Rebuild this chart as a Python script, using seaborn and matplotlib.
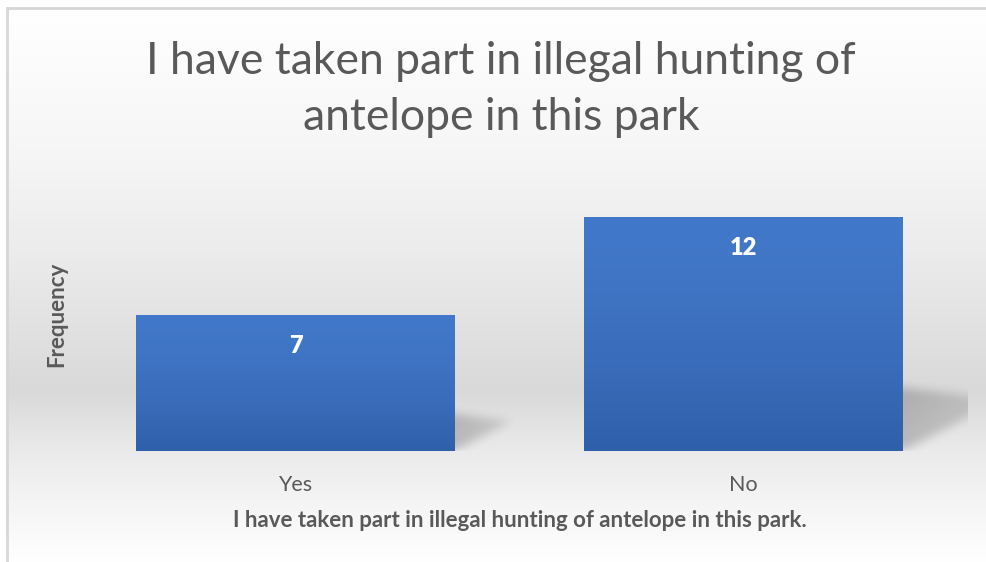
import matplotlib

matplotlib.use("Agg")
import matplotlib.pyplot as plt
import numpy as np
import seaborn as sns
from matplotlib.colors import to_rgb
from matplotlib.lines import Line2D

answers = ["Yes", "No"]
frequencies = [7, 12]
title_lines = ["I have taken part in illegal hunting of", "antelope in this park"]
x_title = "I have taken part in illegal hunting of antelope in this park."
y_title = "Frequency"

TEXT = "#595959"
BAR_TOP = "#4278c9"
BAR_BOTTOM = "#2f5fa9"
FIG_W, FIG_H = 987, 562


def _background(fig: plt.Figure) -> None:
    bg = fig.add_axes([0, 0, 1, 1], zorder=-10)
    rows = np.arange(FIG_H)
    # grey level down the chart area: white top, darker band behind bars, white bottom
    shade = np.interp(rows, [8, 150, 250, 390, 450, 500, 562], [255, 246, 236, 217, 234, 244, 255]) / 255
    img = np.repeat(shade[:, None], 4, axis=1)
    rgb = np.dstack([img, img, img])
    bg.imshow(rgb, aspect="auto", extent=(0, 1, 0, 1), interpolation="bilinear")
    bg.set_axis_off()
    border = "#d6d6d6"
    fig.add_artist(Line2D([6.5 / FIG_W, 6.5 / FIG_W], [0, 1 - 7.5 / FIG_H], transform=fig.transFigure,
                          color=border, lw=2))
    fig.add_artist(Line2D([6.5 / FIG_W, 1], [1 - 7.5 / FIG_H, 1 - 7.5 / FIG_H], transform=fig.transFigure,
                          color=border, lw=2))
    # white margin outside the frame
    fig.add_artist(plt.Rectangle((0, 1 - 6.5 / FIG_H), 1, 6.5 / FIG_H, transform=fig.transFigure,
                                 color="white", zorder=-5))
    fig.add_artist(plt.Rectangle((0, 0), 5.5 / FIG_W, 1, transform=fig.transFigure, color="white", zorder=-5))


def _blur(a: np.ndarray, r: int) -> np.ndarray:
    k = np.ones(2 * r + 1) / (2 * r + 1)
    for _ in range(3):
        a = np.apply_along_axis(lambda v: np.convolve(v, k, mode="same"), 0, a)
        a = np.apply_along_axis(lambda v: np.convolve(v, k, mode="same"), 1, a)
    return a


def _bar_shadow(ax: plt.Axes, patch, px_x: float, px_y: float) -> None:
    right = patch.get_x() + patch.get_width()
    h_px = patch.get_height() * px_y
    pad = 14
    w = int(0.5 * h_px) + 2 * pad
    hh = int(0.4 * h_px) + pad
    X, Y = np.meshgrid(np.arange(w) - pad + 0.5, np.arange(hh) + 0.5)
    tip_x, tip_y, top_y = 0.42 * h_px, 0.22 * h_px, 0.27 * h_px
    lower = tip_y * X / tip_x
    upper = top_y + (tip_y - top_y) * X / tip_x
    mask = ((X <= tip_x) & (Y >= lower) & (Y <= upper)).astype(float)
    mask = _blur(mask, 4) * np.clip(1 - 0.45 * X / tip_x, 0, 1)
    rgba = np.zeros((hh, w, 4))
    rgba[..., 3] = mask * 0.2
    ax.imshow(rgba, origin="lower", aspect="auto", interpolation="bilinear", zorder=1,
              extent=(right - pad / px_x, right + (w - pad) / px_x, 0, hh / px_y))


def _bar_gradient(ax: plt.Axes, patch) -> None:
    t = np.linspace(0, 1, 200)[:, None]
    top, bottom = np.array(to_rgb(BAR_TOP)), np.array(to_rgb(BAR_BOTTOM))
    mix = np.clip(t, 0, 1) ** 1.6
    col = top * (1 - mix[..., None]) + bottom * mix[..., None]
    col = np.repeat(col, 2, axis=1)
    x0, y0 = patch.get_x(), patch.get_y()
    im = ax.imshow(col, origin="upper", aspect="auto", interpolation="bilinear", zorder=2.5,
                   extent=(x0, x0 + patch.get_width(), y0, y0 + patch.get_height()))
    im.set_clip_path(patch)


sns.set_theme(style="white")
plt.rcParams["font.family"] = ["Lato", "DejaVu Sans"]

fig = plt.figure(figsize=(FIG_W / 100, FIG_H / 100), dpi=100)
_background(fig)

ax = fig.add_axes([71.5 / FIG_W, 111 / FIG_H, 896 / FIG_W, 273 / FIG_H])
ax.set_facecolor("none")
sns.barplot(x=answers, y=frequencies, width=0.712, color=BAR_TOP, saturation=1, ax=ax)
ax.set_xlim(-0.5, 1.5)
ax.set_ylim(0, 14)

px_x = ax.transData.transform((1, 0))[0] - ax.transData.transform((0, 0))[0]
px_y = ax.transData.transform((0, 1))[1] - ax.transData.transform((0, 0))[1]

for patch, value in zip(list(ax.patches), frequencies):
    patch.set_zorder(2)
    patch.set_linewidth(0)
    _bar_shadow(ax, patch, px_x, px_y)
    _bar_gradient(ax, patch)
    ax.annotate(str(value), xy=(patch.get_x() + patch.get_width() / 2, patch.get_height()),
                xytext=(0, -22.5), textcoords="offset points", ha="center", va="center",
                color="white", fontsize=17, fontweight="heavy", zorder=4)

ax.set_xlim(-0.5, 1.5)
ax.set_ylim(0, 14)
sns.despine(ax=ax, left=True, bottom=True)
ax.set_yticks([])
ax.tick_params(axis="x", length=0, pad=24.5, labelsize=15.5, labelcolor=TEXT)
plt.setp(ax.get_xticklabels(), va="center")

ax.set_xlabel(x_title, fontsize=16, fontweight="bold", color=TEXT, va="center")
ax.xaxis.set_label_coords(0.5, -0.2564)
ax.set_ylabel(y_title, fontsize=16, fontweight="bold", color=TEXT, va="center")
ax.yaxis.set_label_coords(-0.0162, 0.502)

for line, y_px in zip(title_lines, [74, 130]):
    fig.text(501 / FIG_W, 1 - y_px / FIG_H, line, ha="center", va="baseline", fontsize=32, color=TEXT)

fig.savefig("out.png", dpi=100)
plt.close(fig)
